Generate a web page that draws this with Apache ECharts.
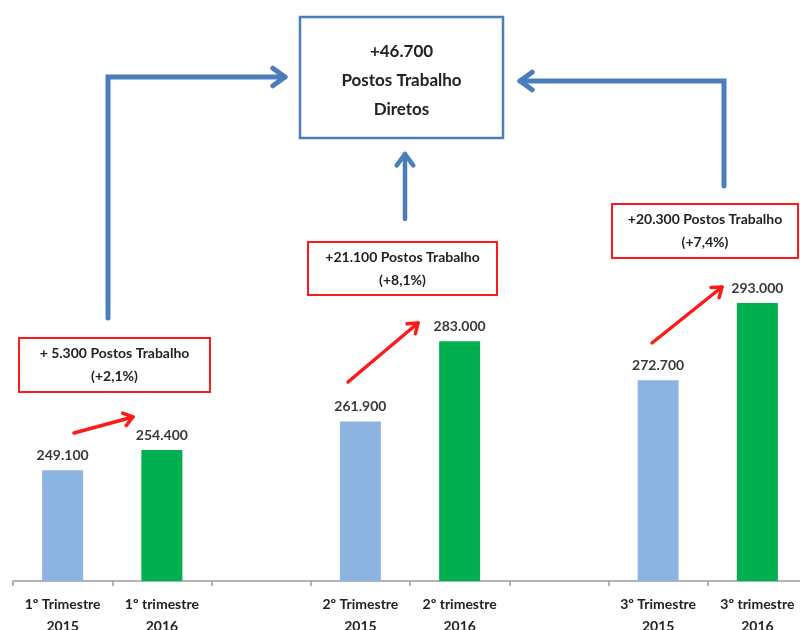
<!DOCTYPE html>
<html>
<head>
<meta charset="utf-8">
<script src="https://cdn.jsdelivr.net/npm/echarts@6/dist/echarts.min.js"></script>
<style>
  html, body { margin: 0; padding: 0; background: #fff; }
  #chart { width: 800px; height: 630px; }
</style>
</head>
<body>
<div id="chart"></div>
<script>
// Quarter categories (empty slots separate the three quarter pairs)
const categories = [
  '1º Trimestre\n2015', '1º trimestre\n2016', '',
  '2º Trimestre\n2015', '2º trimestre\n2016', '',
  '3º Trimestre\n2015', '3º trimestre\n2016'
];
// Direct jobs per quarter
const jobs2015 = [249100, null, null, 261900, null, null, 272700, null];
const jobs2016 = [null, 254400, null, null, 283000, null, null, 293000];

// Year-on-year change boxes
const changeTexts = [
  '+ 5.300 Postos Trabalho\n(+2,1%)',
  '+21.100 Postos Trabalho\n(+8,1%)',
  '+20.300 Postos Trabalho\n(+7,4%)'
];
const totalText = '+46.700\nPostos Trabalho\nDiretos';

const FONT = 'Lato, "Open Sans", sans-serif';
const BLUE = '#4A7EBB';
const RED = '#FF1A1A';

function fmtThousands(v) {
  return String(Math.round(v)).replace(/\B(?=(\d{3})+(?!\d))/g, '.');
}

const chart = echarts.init(document.getElementById('chart'));

const valueLabel = {
  show: true,
  position: 'top',
  distance: 8,
  fontFamily: FONT,
  fontWeight: 'bold',
  fontSize: 14,
  color: '#3a3a3a',
  formatter: p => fmtThousands(p.value)
};

function arrowHead(tip, dir, size) {
  // two barbs behind the tip, dir is the unit direction of travel
  const a = Math.PI / 5;
  const back = [-dir[0], -dir[1]];
  const rot = (v, t) => [v[0] * Math.cos(t) - v[1] * Math.sin(t), v[0] * Math.sin(t) + v[1] * Math.cos(t)];
  const b1 = rot(back, a), b2 = rot(back, -a);
  return [
    [tip[0] + b1[0] * size, tip[1] + b1[1] * size],
    tip,
    [tip[0] + b2[0] * size, tip[1] + b2[1] * size]
  ];
}

function arrow(points, color, width, headSize) {
  const n = points.length;
  const tip = points[n - 1], prev = points[n - 2];
  const dx = tip[0] - prev[0], dy = tip[1] - prev[1];
  const len = Math.hypot(dx, dy);
  const dir = [dx / len, dy / len];
  const style = { stroke: color, lineWidth: width, fill: null, lineJoin: 'miter', lineCap: 'round' };
  return [
    { type: 'polyline', shape: { points: points }, style: style, z: 10 },
    { type: 'polyline', shape: { points: arrowHead(tip, dir, headSize) }, style: Object.assign({}, style, { lineJoin: 'round' }), z: 10 }
  ];
}

function box(x, y, w, h, color, lw, text, fontSize, lineHeight, dy) {
  return [
    { type: 'rect', shape: { x: x, y: y, width: w, height: h },
      style: { fill: '#fff', stroke: color, lineWidth: lw }, z: 10 },
    { type: 'text', x: x + w / 2, y: y + h / 2 + (dy || 0),
      style: { text: text, align: 'center', verticalAlign: 'middle',
        fontFamily: FONT, fontWeight: 'bold', fontSize: fontSize,
        lineHeight: lineHeight, fill: '#222' }, z: 11 }
  ];
}

const graphics = [].concat(
  box(300, 17, 203, 121, BLUE, 2.5, totalText, 17, 29, 3),
  arrow([[108, 318], [108, 77], [285, 77]], BLUE, 5, 15),
  arrow([[724, 186], [724, 81], [520, 81]], BLUE, 5, 15),
  arrow([[405, 219], [405, 154]], BLUE, 4.5, 14),
  box(19, 338, 191, 54, RED, 2, changeTexts[0], 14, 23),
  box(308, 242, 189, 53, RED, 2, changeTexts[1], 14, 23),
  box(612, 204, 186, 54, RED, 2, changeTexts[2], 14, 23),
  arrow([[74, 433], [133, 417]], RED, 3.5, 11),
  arrow([[348, 382], [418, 323]], RED, 3.5, 11),
  arrow([[652, 343], [722, 287]], RED, 3.5, 11)
);

chart.setOption({
  animation: false,
  backgroundColor: '#fff',
  grid: { left: 13, top: 48, width: 794, bottom: 49, containLabel: false, outerBoundsMode: 'none' },
  xAxis: {
    type: 'category',
    data: categories,
    boundaryGap: true,
    axisLine: { show: true, lineStyle: { color: '#9a9a9a', width: 1.5 } },
    axisTick: { show: true, interval: 0, length: 5, lineStyle: { color: '#9a9a9a', width: 1.5 } },
    axisLabel: {
      interval: 0,
      margin: 12,
      fontFamily: FONT,
      fontWeight: 'bold',
      fontSize: 14,
      lineHeight: 22,
      color: '#222'
    }
  },
  yAxis: {
    type: 'value',
    min: 220000,
    max: 360000,
    show: false,
    splitLine: { show: false }
  },
  series: [
    {
      name: '2015',
      type: 'bar',
      data: jobs2015,
      barWidth: 41,
      barGap: '-100%',
      itemStyle: { color: '#8DB3E2' },
      label: valueLabel
    },
    {
      name: '2016',
      type: 'bar',
      data: jobs2016,
      barWidth: 41,
      barGap: '-100%',
      itemStyle: { color: '#00B050' },
      label: valueLabel
    }
  ],
  graphic: graphics
});
</script>
</body>
</html>
